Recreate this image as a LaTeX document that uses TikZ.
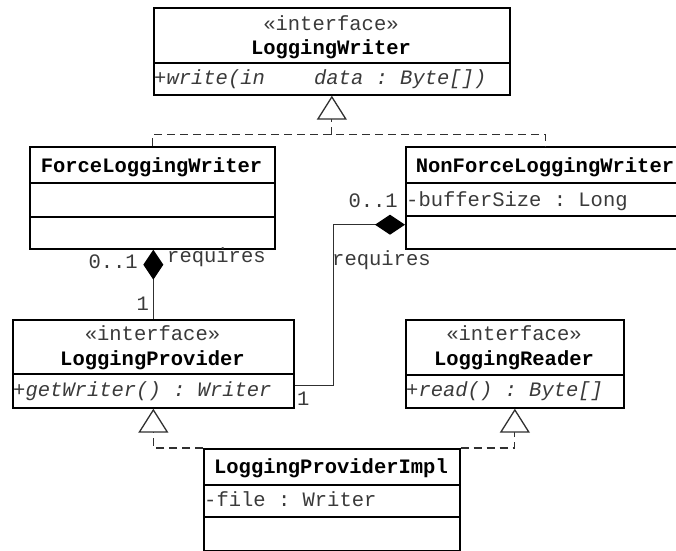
\documentclass[tikz,border=0pt]{standalone}
\usepackage{fontspec}
\setmonofont{Liberation Mono}
\usetikzlibrary{arrows.meta}
\definecolor{txtgray}{HTML}{3A3A3A}
\definecolor{lncol}{HTML}{303030}
\begin{document}
\begin{tikzpicture}[x=1pt,y=-1pt,
  box/.style={draw=black, line width=1.7pt, inner sep=0pt, anchor=north west},
  div/.style={draw=black, line width=1.7pt},
  st/.style={font=\ttfamily\fontsize{20.5}{23}\selectfont, text=txtgray, inner sep=0pt, anchor=base},
  nm/.style={font=\ttfamily\bfseries\fontsize{20.5}{23}\selectfont, text=black, inner sep=0pt, anchor=base},
  mem/.style={st, anchor=base west},
  op/.style={st, anchor=base west, font=\ttfamily\itshape\fontsize{20.5}{23}\selectfont},
  conn/.style={draw=lncol, line width=1.2pt},
  realize/.style={conn, dash pattern=on 8pt off 5pt, -{Triangle[length=24pt, width=30pt, line width=1.3pt, fill=white]}},
  dashline/.style={conn, dash pattern=on 8pt off 5pt},
  compose/.style={conn, -{Diamond[length=30pt, width=20pt, color=black, fill=black]}},
]
\useasboundingbox (0,0) rectangle (676,550);
\clip (0,0) rectangle (676,550);
\fill[white] (0,0) rectangle (676,550);

% LoggingWriter
\node[box, minimum width=356pt, minimum height=87pt] (lw) at (153,7) {};
\draw[div] (153,63) -- (509,63);
\node[st] (lwst) at (331,30) {«interface»};
\node[nm] (lwnm) at (331,54) {LoggingWriter};
\node[op] (lwop) at (154,84) {+write(in~~~~data : Byte[])};

% ForceLoggingWriter
\node[box, minimum width=245pt, minimum height=102pt] (flw) at (29,146) {};
\draw[div] (29,183) -- (274,183);
\draw[div] (29,217) -- (274,217);
\node[nm] (flwnm) at (151.5,172) {ForceLoggingWriter};

% NonForceLoggingWriter
\node[box, minimum width=280pt, minimum height=102pt] (nflw) at (405,146) {};
\draw[div] (405,183) -- (685,183);
\draw[div] (405,216) -- (685,216);
\node[nm] (nflwnm) at (545,172) {NonForceLoggingWriter};
\node[mem] (nflwat) at (406,206) {-bufferSize : Long};

% LoggingProvider
\node[box, minimum width=281pt, minimum height=88pt] (lp) at (12,319) {};
\draw[div] (12,374) -- (293,374);
\node[st] (lpst) at (152.5,340) {«interface»};
\node[nm] (lpnm) at (152.5,365) {LoggingProvider};
\node[op] (lpop) at (13,396) {+getWriter() : Writer};

% LoggingReader
\node[box, minimum width=218pt, minimum height=88pt] (lr) at (405,319) {};
\draw[div] (405,375) -- (623,375);
\node[st] (lrst) at (514,340) {«interface»};
\node[nm] (lrnm) at (514,365) {LoggingReader};
\node[op] (lrop) at (406,396) {+read() : Byte[]};

% LoggingProviderImpl
\node[box, minimum width=256pt, minimum height=101.5pt] (lpi) at (203,448) {};
\draw[div] (203,485) -- (459,485);
\draw[div] (203,517) -- (459,517);
\node[nm] (lpinm) at (331,473) {LoggingProviderImpl};
\node[mem] (lpiat) at (204,506) {-file : Writer};

% realization to LoggingWriter
\path (lw.south) ++(0,39) coordinate (j1);
\draw[dashline] (flw.north) |- (j1) -| (nflw.north);
\draw[realize] (j1) -- (lw.south);

% realizations of LoggingProviderImpl
\draw[realize] (lpi.north west) -| (lp.south);
\draw[realize] (lpi.north east) -| (lr.south);

% composition ForceLoggingWriter - LoggingProvider
\draw[compose] (lp.north) -- (lp.north |- flw.south);
\node[st, anchor=base east] (m1) at (138,268) {0..1};
\node[st, anchor=base west] (r1) at (167,262) {requires};
\node[st, anchor=base east] (o1) at (149,310) {1};

% composition NonForceLoggingWriter - LoggingProvider
\draw[compose] ([yshift=23pt]lp.south east) -- ++(39,0) |- ([yshift=25pt]nflw.south west);
\node[st, anchor=base east] (m2) at (398,207) {0..1};
\node[st, anchor=base west] (r2) at (332,265) {requires};
\node[st, anchor=base west] (o2) at (297,405) {1};
\end{tikzpicture}
\end{document}
